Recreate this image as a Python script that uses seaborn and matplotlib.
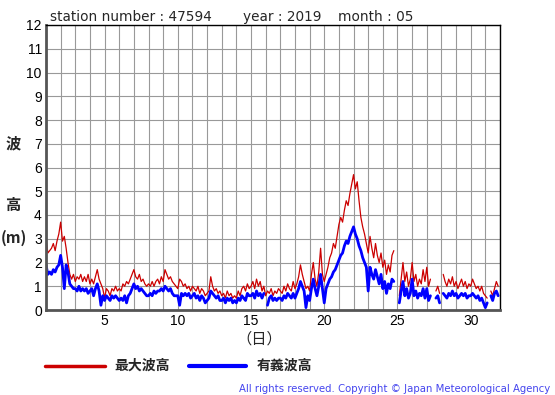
import numpy as np
import pandas as pd
import matplotlib
matplotlib.use("Agg")
import matplotlib.pyplot as plt
import seaborn as sns

nan = np.nan
samples_per_day = 8
first_day = 1

max_wave = [
    3.0, 2.4, 2.5, 2.6, 2.8, 2.5, 2.9, 3.2,
    3.7, 2.9, 3.1, 2.6, 2.0, 1.5, 1.3, 1.5,
    1.2, 1.4, 1.3, 1.5, 1.2, 1.4, 1.2, 1.5,
    1.1, 1.3, 1.1, 1.4, 1.7, 1.3, 1.1, 0.9,
    0.5, 0.9, 0.8, 0.6, 0.9, 0.8, 1.0, 0.8,
    0.9, 0.8, 1.1, 1.0, 1.2, 1.1, 1.3, 1.5,
    1.7, 1.4, 1.3, 1.5, 1.2, 1.3, 1.1, 1.0,
    1.1, 1.0, 1.2, 1.0, 1.2, 1.3, 1.1, 1.4,
    1.2, 1.7, 1.5, 1.3, 1.4, 1.2, 1.1, 1.0,
    0.9, 1.3, 1.2, 1.0, 1.1, 0.9, 1.0, 0.8,
    1.0, 0.9, 0.8, 1.0, 0.7, 0.9, 0.8, 0.6,
    0.7, 0.8, 1.4, 1.0, 0.8, 0.9, 0.7, 0.8,
    0.6, 0.7, 0.5, 0.8, 0.6, 0.7, 0.5, 0.6,
    0.5, 0.8, 0.6, 0.9, 1.0, 0.8, 1.1, 0.9,
    1.0, 1.2, 0.9, 1.3, 1.0, 1.2, 0.8, 1.0,
    0.6, 0.8, 0.7, 0.9, 0.6, 0.8, 0.7, 0.9,
    0.8, 0.7, 1.0, 0.8, 1.1, 0.9, 0.8, 1.2,
    0.9, 1.1, 1.4, 1.9, 1.5, 1.2, 0.9, 1.0,
    0.8, 1.5, 2.0, 1.3, 1.0, 1.6, 2.6, 1.5,
    1.2, 1.5, 1.8, 2.2, 2.4, 2.8, 2.6, 3.1,
    3.6, 3.9, 3.7, 4.2, 4.6, 4.4, 4.9, 5.3,
    5.7, 5.1, 5.4, 4.6, 3.9, 3.5, 3.2, 2.8,
    2.4, 3.1, 2.6, 2.2, 2.8, 2.3, 2.0, 2.4,
    1.8, 2.1, 1.5, 1.9, 1.6, 2.3, 2.5, nan,
    nan, 0.6, 1.3, 2.0, 1.2, 1.6, 1.0, 1.3,
    2.0, 1.2, 1.5, 1.0, 1.3, 1.1, 1.7, 1.2,
    1.8, 1.0, 1.3, nan, nan, 0.8, 1.0, 0.7,
    nan, 1.5, 1.2, 1.0, 1.3, 1.1, 1.4, 1.0,
    1.2, 0.9, 1.1, 1.3, 1.0, 1.2, 0.9, 1.1,
    1.0, 1.3, 1.1, 0.9, 1.0, 0.8, 1.0, 0.7,
    0.6, 0.5, nan, 0.8, 0.6, 0.9, 1.2, 1.0,
]

sig_wave = [
    1.9, 1.5, 1.6, 1.5, 1.7, 1.6, 1.8, 1.9,
    2.3, 1.8, 0.9, 1.9, 1.6, 1.1, 1.0, 0.9,
    0.9, 0.8, 1.0, 0.8, 0.9, 0.8, 0.9, 0.7,
    0.8, 0.9, 0.6, 0.9, 1.1, 0.8, 0.2, 0.6,
    0.4, 0.6, 0.5, 0.4, 0.6, 0.5, 0.6, 0.5,
    0.4, 0.5, 0.4, 0.6, 0.3, 0.6, 0.7, 0.9,
    1.1, 0.9, 1.0, 0.8, 0.9, 0.8, 0.7, 0.6,
    0.6, 0.7, 0.6, 0.8, 0.7, 0.8, 0.8, 0.9,
    0.8, 1.0, 0.9, 0.8, 0.9, 0.7, 0.6, 0.6,
    0.6, 0.2, 0.7, 0.6, 0.7, 0.6, 0.7, 0.5,
    0.6, 0.7, 0.5, 0.6, 0.4, 0.6, 0.5, 0.3,
    0.4, 0.5, 0.8, 0.7, 0.6, 0.5, 0.6, 0.4,
    0.4, 0.5, 0.3, 0.5, 0.4, 0.5, 0.3, 0.4,
    0.3, 0.5, 0.4, 0.6, 0.5, 0.4, 0.7, 0.6,
    0.6, 0.7, 0.5, 0.8, 0.6, 0.7, 0.5, 0.7,
    nan, 0.2, 0.5, 0.6, 0.4, 0.5, 0.4, 0.5,
    0.5, 0.4, 0.6, 0.5, 0.7, 0.6, 0.5, 0.7,
    0.5, 0.7, 0.9, 1.2, 1.0, 0.8, 0.1, 0.6,
    0.4, 0.9, 1.3, 0.9, 0.6, 1.0, 1.5, 0.9,
    0.3, 0.9, 1.1, 1.3, 1.4, 1.6, 1.7, 1.9,
    2.1, 2.3, 2.4, 2.7, 2.9, 2.8, 3.1, 3.3,
    3.5, 3.2, 3.0, 2.7, 2.5, 2.2, 2.0, 1.8,
    0.8, 1.8, 1.5, 1.3, 1.7, 1.4, 1.1, 1.5,
    0.9, 1.2, 0.7, 1.1, 0.9, 1.3, 1.2, nan,
    nan, 0.3, 0.8, 1.2, 0.6, 0.9, 0.5, 0.7,
    1.3, 0.6, 0.8, 0.5, 0.7, 0.6, 0.9, 0.5,
    0.9, 0.4, 0.6, nan, nan, 0.5, 0.6, 0.3,
    nan, 0.7, 0.6, 0.5, 0.7, 0.6, 0.8, 0.6,
    0.7, 0.5, 0.6, 0.7, 0.6, 0.7, 0.5, 0.6,
    0.6, 0.7, 0.6, 0.5, 0.6, 0.4, 0.5, 0.3,
    0.1, 0.3, nan, 0.6, 0.4, 0.7, 0.8, 0.6,
]

x_ticks = [5, 10, 15, 20, 25, 30]
y_ticks = list(range(0, 13))
title_parts = ["station number : 47594", "year : 2019", "month : 05"]
legend_labels = ["最大波高", "有義波高"]
series_colors = ["#cc0000", "#0000ff"]

def to_frame(values, name):
    v = np.array(values, dtype=float)
    t = first_day + np.arange(len(v)) / samples_per_day
    seg = np.cumsum(np.isnan(v))
    df = pd.DataFrame({"day": t, "height": v, "seg": seg, "series": name})
    return df.dropna()

df_max = to_frame(max_wave, legend_labels[0])
df_sig = to_frame(sig_wave, legend_labels[1])

sns.set_style("white")
plt.rcParams["font.family"] = ["Liberation Sans", "Noto Sans CJK JP", "DejaVu Sans"]

W, H = 555, 395
def fx(px):
    return px / W
def fy(py):
    return 1 - py / H

fig = plt.figure(figsize=(5.55, 3.95), dpi=100)
ax = fig.add_axes([fx(46), fy(310), (500 - 46) / W, (310 - 25) / H])

sns.lineplot(data=df_max, x="day", y="height", units="seg", estimator=None,
             color=series_colors[0], lw=0.9, ax=ax, sort=False)
sns.lineplot(data=df_sig, x="day", y="height", units="seg", estimator=None,
             color=series_colors[1], lw=2.0, ax=ax, sort=False)

ax.set_xlim(1, 32)
ax.set_ylim(0, 12)
ax.set_xticks(range(1, 33), minor=True)
ax.set_xticks(x_ticks)
ax.set_yticks(y_ticks)
ax.grid(True, which="both", color="#999999", lw=0.8)
ax.set_axisbelow(True)
ax.tick_params(which="both", length=0, labelsize=10, pad=3, colors="black")
ax.set_xlabel("")
ax.set_ylabel("")
for s in ["top", "right"]:
    ax.spines[s].set_color("black")
    ax.spines[s].set_linewidth(1.0)
for s in ["left", "bottom"]:
    ax.spines[s].set_color("#555555")
    ax.spines[s].set_linewidth(2.0)

title_fam = ["DejaVu Sans"]
for txt, px in zip(title_parts, [50, 243, 338]):
    fig.text(fx(px), fy(21), txt, fontsize=9.8, va="baseline", ha="left", family=title_fam)

cjk = ["Noto Sans CJK JP", "DejaVu Sans"]
fig.text(fx(13), fy(143), "波", fontsize=11, ha="center", va="center", family=cjk, fontweight="bold")
fig.text(fx(13), fy(205), "高", fontsize=11, ha="center", va="center", family=cjk, fontweight="bold")
fig.text(fx(14), fy(238), "(m)", fontsize=11, ha="center", va="center", family=cjk, fontweight="bold")
fig.text(fx(259), fy(339), "（日）", fontsize=11, ha="center", va="center", family=cjk)

fig.add_artist(plt.Line2D([fx(45), fx(105)], [fy(366)] * 2, color=series_colors[0], lw=2.5))
fig.add_artist(plt.Line2D([fx(189), fx(246)], [fy(366)] * 2, color=series_colors[1], lw=3))
fig.text(fx(114), fy(366), legend_labels[0], fontsize=10, ha="left", va="center",
         family=cjk, fontweight="bold")
fig.text(fx(257), fy(366), legend_labels[1], fontsize=10, ha="left", va="center",
         family=cjk, fontweight="bold")

fig.text(fx(550), fy(389), "All rights reserved. Copyright © Japan Meteorological Agency",
         fontsize=7.3, ha="right", va="center", color="#4444ee", family=["DejaVu Sans"])

fig.savefig("out.png", dpi=100)
